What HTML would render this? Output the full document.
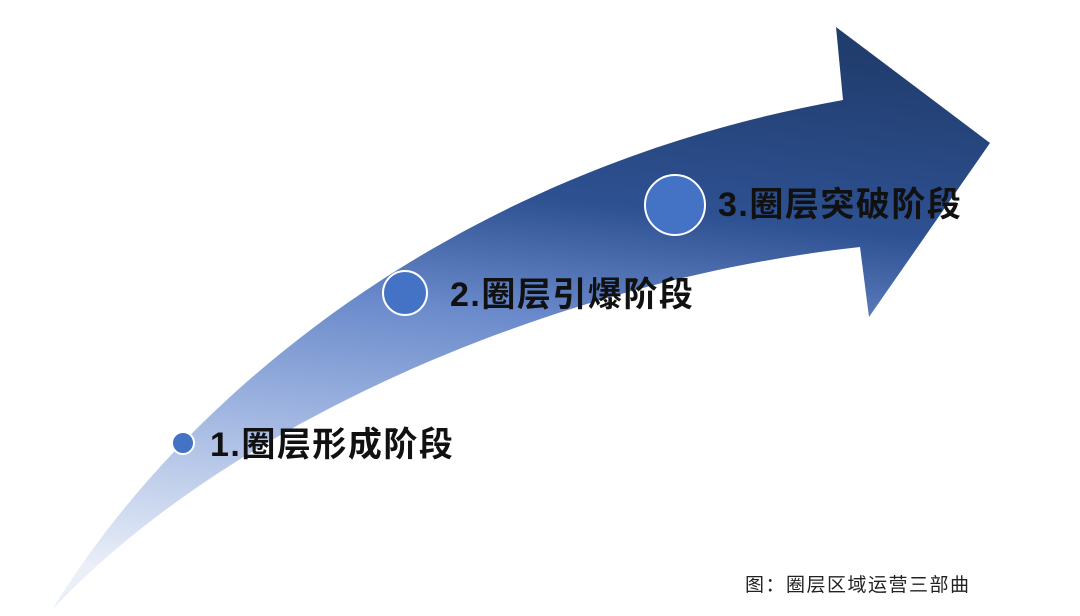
<!DOCTYPE html>
<html><head><meta charset="utf-8"><style>
html,body{margin:0;padding:0;background:#fff;}
body{width:1080px;height:616px;overflow:hidden;position:relative;}
svg{position:absolute;left:0;top:0;}
text{font-family:"Liberation Sans","Noto Sans CJK SC",sans-serif;font-weight:bold;}
</style></head><body>
<svg width="1080" height="616" viewBox="0 0 1080 616">
<defs>
<linearGradient id="g" x1="620" y1="30" x2="560" y2="615" gradientUnits="userSpaceOnUse">
<stop offset="0" stop-color="#213d6e"/>
<stop offset="0.3" stop-color="#2e5192"/>
<stop offset="0.5" stop-color="#6a8acb"/>
<stop offset="0.7" stop-color="#9db3e0"/>
<stop offset="1" stop-color="#eaeff8"/>
</linearGradient>
</defs>
<path d="M52,610 C180,400 450,170 843,100 L836,27 L990,143 L869,317 L860,247 C560,280 230,420 52,610 Z" fill="url(#g)"/>
<circle cx="183" cy="443" r="11" fill="#4472c4" stroke="#fff" stroke-width="2"/>
<circle cx="405" cy="293" r="22" fill="#4472c4" stroke="#fff" stroke-width="2"/>
<circle cx="675" cy="205" r="30" fill="#4472c4" stroke="#fff" stroke-width="2"/>
<text x="210" y="456" font-size="34" fill="#111" letter-spacing="1.5">1.圈层形成阶段</text>
<text x="450" y="306" font-size="34" fill="#111" letter-spacing="1.5">2.圈层引爆阶段</text>
<text x="718" y="216" font-size="34" fill="#111" letter-spacing="1.5">3.圈层突破阶段</text>
<text x="745" y="591" font-size="19" fill="#222" style="font-weight:normal" letter-spacing="1.5">图：圈层区域运营三部曲</text>
</svg>
</body></html>
